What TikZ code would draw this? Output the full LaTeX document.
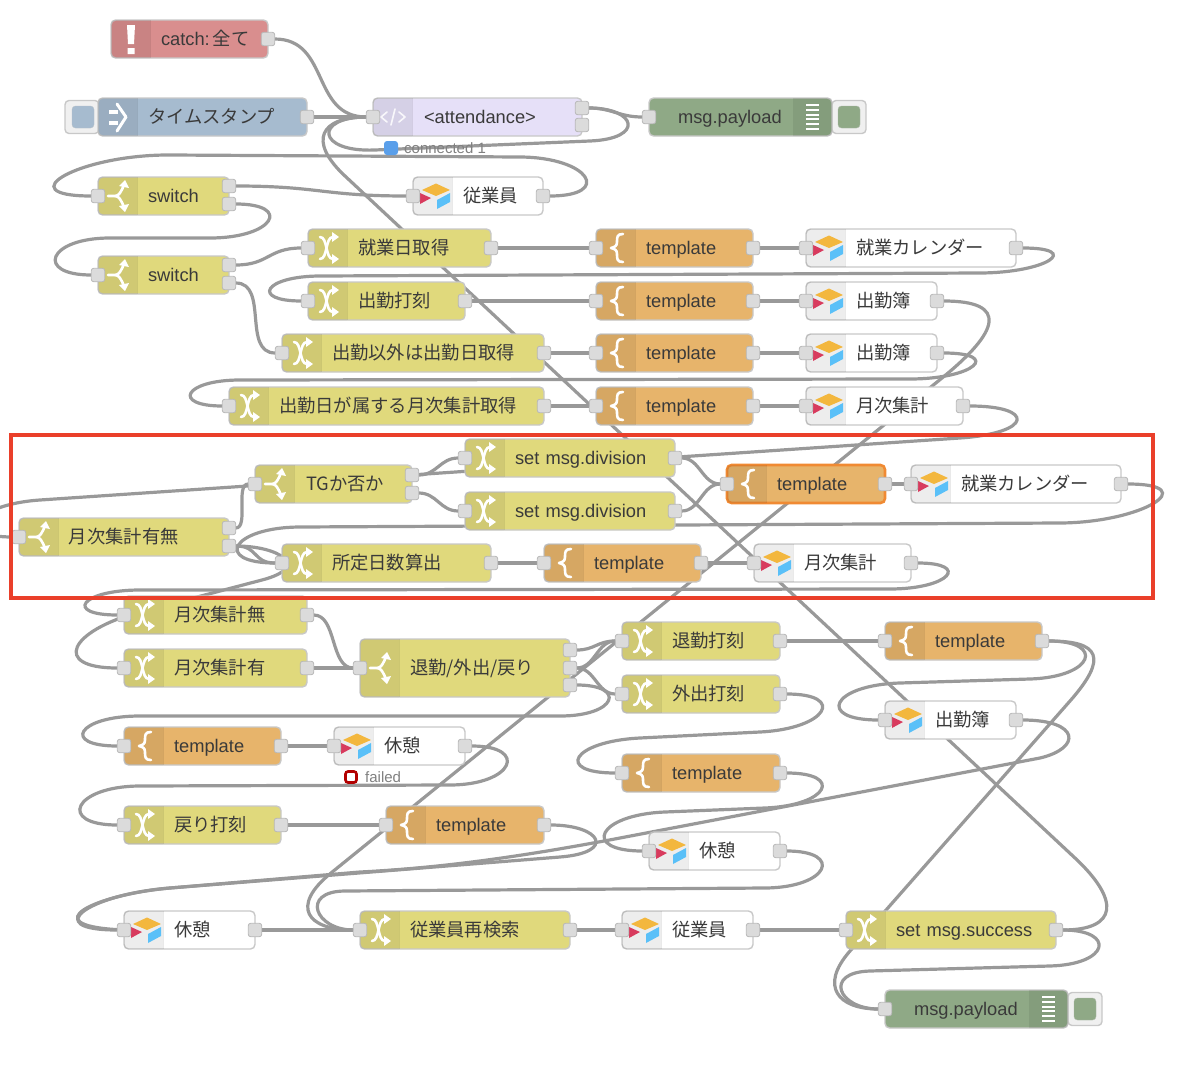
\documentclass[tikz,border=0pt]{standalone}
\usepackage{fontspec}
\setmainfont{Liberation Sans}
\newfontfamily\cjk{Noto Sans CJK JP}
\usetikzlibrary{calc,backgrounds}
\definecolor{cred}{HTML}{D98E8E}
\definecolor{cblue}{HTML}{A6BBCF}
\definecolor{clav}{HTML}{E6E0F8}
\definecolor{cgreen}{HTML}{8FA986}
\definecolor{cyel}{HTML}{E0D97C}
\definecolor{cora}{HTML}{E7B46B}
\definecolor{cwire}{HTML}{999999}
\definecolor{cedge}{HTML}{C8C8C8}
\definecolor{cframe}{HTML}{EA3F2A}
\definecolor{ctxt}{HTML}{3A3A3A}
\definecolor{airy}{HTML}{F3B73E}
\definecolor{airr}{HTML}{D83B5E}
\definecolor{airb}{HTML}{5AC0F8}
\definecolor{chot}{HTML}{F08A33}
\definecolor{cstat}{HTML}{5A9FEA}
\tikzset{
  wire/.style={draw=cwire,line width=3.2pt},
  flowbox/.style={draw=cedge,line width=1.4pt,rounded corners=4.5pt,inner sep=0pt,outer sep=0pt,
    text width=\nw pt,align=left,text=ctxt,font=\fontsize{18.3}{20}\selectfont,text height=13pt,text depth=0pt,
    minimum height=\boxh pt,anchor=west},
  redbox/.style={flowbox,fill=cred},
  bluebox/.style={flowbox,fill=cblue},
  lavbox/.style={flowbox,fill=clav},
  greenbox/.style={flowbox,fill=cgreen},
  yelbox/.style={flowbox,fill=cyel},
  orabox/.style={flowbox,fill=cora},
  whitebox/.style={flowbox,fill=white},
  hotbox/.style={flowbox,fill=cora,draw=chot,line width=2.6pt},
  portbox/.style={draw=black!28,fill=black!14,line width=0.8pt,rounded corners=2.5pt,minimum size=13.5pt,inner sep=0pt,outer sep=0pt},
  btnbox/.style={draw=cedge,fill=black!6,line width=1.4pt,rounded corners=4pt,inner sep=0pt,minimum width=34pt,minimum height=33pt},
  btnin/.style={rounded corners=3.5pt,inner sep=0pt,minimum size=22pt},
  glyph/.style={draw=white,line width=2.6pt,line cap=round,line join=round},
  statustxt/.style={text=black!50,font=\fontsize{15}{17}\selectfont,inner sep=0pt,anchor=west}
}
\def\boxh{38}
\newcommand\secL{\fill[black,opacity=.07] (39,-\boxh/2) [rounded corners=4pt] -- (0,-\boxh/2) -- (0,\boxh/2) [sharp corners] -- (39,\boxh/2) -- cycle;
  \draw[black,opacity=.08,line width=.8pt] (39,-\boxh/2) -- (39,\boxh/2);}
\newcommand\icoswitch{\secL
  \draw[glyph] (10,0) -- (17,0) .. controls (21,0) and (23,-4) .. (26,-11);
  \draw[glyph] (17,0) .. controls (21,0) and (23,4) .. (26,11);
  \fill[white] (21,-10) -- (27,-16) -- (31,-8) -- cycle (21,10) -- (27,16) -- (31,8) -- cycle;}
\newcommand\icochange{\secL
  \draw[glyph] (12,-11) .. controls (20,-11) and (17,11) .. (25,11);
  \draw[glyph] (12,11) .. controls (20,11) and (17,-11) .. (25,-11);
  \fill[white] (24,-16) -- (31,-11) -- (24,-6) -- cycle (24,6) -- (31,11) -- (24,16) -- cycle;}
\newcommand\icotmpl{\secL
  \draw[glyph] (27,-14) .. controls (21,-14) and (21,-11) .. (21,-6) .. controls (21,-2) and (19,-1) .. (15,0)
    .. controls (19,1) and (21,2) .. (21,6) .. controls (21,11) and (21,14) .. (27,14);}
\newcommand\icoair{\secL
  \fill[airy] (23,-12.5) -- (37,-6) -- (23,0) -- (9,-6) -- cycle;
  \fill[airr] (7,-3) -- (18,2) -- (7,8) -- cycle;
  \fill[airb] (37,-3) -- (37,6) -- (24,13) -- (24,4) -- cycle;}
\newcommand\icocatch{\secL
  \fill[white] (16,-14) -- (24,-14) -- (23,5) -- (17,5) -- cycle (16.5,9) rectangle (23.5,15);}
\newcommand\icostamp{\secL
  \draw[glyph,line width=4pt,line cap=butt] (11,-5) -- (20,-5) (11,6) -- (20,6);
  \draw[glyph,line width=3pt] (19,-13) -- (28,0) -- (19,14);}
\newcommand\icoweb{\secL
  \draw[glyph,line width=1.6pt,opacity=.85] (14,-5) -- (8,0) -- (14,5) (22,-8) -- (18,8) (26,-5) -- (32,0) -- (26,5);}
\newcommand\icodebug{%
  \fill[black,opacity=.07] (\nw-39,-\boxh/2) [rounded corners=4pt] -- (\nw,-\boxh/2) -- (\nw,\boxh/2) [sharp corners] -- (\nw-39,\boxh/2) -- cycle;
  \foreach \bk in {-12,-7.2,-2.4,2.4,7.2,12}{\draw[white,line width=2pt] (\nw-26,\bk) -- (\nw-13,\bk);}}
% name x1 x2 yc style icon label-offset label
\newcommand\nd[8]{\pgfmathsetmacro\nw{#3-#2}%
  \begin{scope}[shift={(#2,#4)}]
    \node[#5] (#1) at (0,0) {\hspace*{#7pt}#8};
    #6
  \end{scope}}
\newcommand\inp[1]{\node[portbox] (#1-i) at (#1.west) {};}
\newcommand\outp[3]{\node[portbox] (#1-o#2) at ($(#1.east)+(0,#3)$) {};}
\newcommand\io[1]{\inp{#1}\outp{#1}{}{0}}
\newcommand\fw[3]{\draw[wire] (#1) .. controls ($(#1)+(#3,0)$) and ($(#2)+(-#3,0)$) .. (#2);}
\newcommand\st[2]{\draw[wire] (#1) -- (#2);}
\newcommand\lw[6]{\draw[wire] (#1) .. controls ($(#1)+(#3,0)$) and ($(#5)!-#3pt!(#6)$) .. (#5) -- (#6) .. controls ($(#6)!-#4pt!(#5)$) and ($(#2)+(-#4,0)$) .. (#2);}
\begin{document}
\begin{tikzpicture}[x=1pt,y=-1pt]
\useasboundingbox (0,0) rectangle (1192,1076);
% side buttons
\node[btnbox] (bt1) at (82,117) {};
\node[btnin,fill=cblue,draw=cblue!80!black!60] (bt1i) at (83,117) {};
\node[btnbox] (bt2) at (849,117) {};
\node[btnin,fill=cgreen,draw=cgreen!80!black!60] (bt2i) at (849,117) {};
\node[btnbox] (bt3) at (1085,1009) {};
\node[btnin,fill=cgreen,draw=cgreen!80!black!60] (bt3i) at (1085,1009) {};
% nodes
\nd{catch}{111}{268}{39}{redbox}{\icocatch}{50}{catch:\hspace{3pt}{\cjk 全て}}\outp{catch}{}{0}
\nd{stamp}{98}{307}{117}{bluebox}{\icostamp}{50}{\cjk タイムスタンプ}\outp{stamp}{}{0}
\nd{att}{373}{582}{117}{lavbox}{\icoweb}{51}{<attendance>}\inp{att}\outp{att}{1}{-9}\outp{att}{2}{8}
\nd{pay1}{649}{832}{117}{greenbox}{\icodebug}{29}{msg.payload}\inp{pay1}
\nd{sw1}{98}{229}{196}{yelbox}{\icoswitch}{50}{switch}\inp{sw1}\outp{sw1}{1}{-10}\outp{sw1}{2}{8}
\nd{emp1}{413}{543}{196}{whitebox}{\icoair}{50}{\cjk 従業員}\io{emp1}
\nd{sw2}{98}{229}{275}{yelbox}{\icoswitch}{50}{switch}\inp{sw2}\outp{sw2}{1}{-10}\outp{sw2}{2}{8}
\nd{wd}{308}{491}{248}{yelbox}{\icochange}{50}{\cjk 就業日取得}\io{wd}
\nd{t1}{596}{753}{248}{orabox}{\icotmpl}{50}{template}\io{t1}
\nd{cal1}{806}{1016}{248}{whitebox}{\icoair}{50}{\cjk 就業カレンダー}\io{cal1}
\nd{clk}{308}{465}{301}{yelbox}{\icochange}{50}{\cjk 出勤打刻}\io{clk}
\nd{t2}{596}{753}{301}{orabox}{\icotmpl}{50}{template}\io{t2}
\nd{att2}{806}{937}{301}{whitebox}{\icoair}{50}{\cjk 出勤簿}\io{att2}
\nd{other}{282}{544}{353}{yelbox}{\icochange}{50}{\cjk 出勤以外は出勤日取得}\io{other}
\nd{t3}{596}{753}{353}{orabox}{\icotmpl}{50}{template}\io{t3}
\nd{att3}{806}{937}{353}{whitebox}{\icoair}{50}{\cjk 出勤簿}\io{att3}
\nd{mon}{229}{544}{406}{yelbox}{\icochange}{50}{\cjk 出勤日が属する月次集計取得}\io{mon}
\nd{t4}{596}{753}{406}{orabox}{\icotmpl}{50}{template}\io{t4}
\nd{sum1}{806}{963}{406}{whitebox}{\icoair}{50}{\cjk 月次集計}\io{sum1}
\nd{div1}{465}{675}{458}{yelbox}{\icochange}{50}{set msg.division}\io{div1}
\nd{div2}{465}{675}{511}{yelbox}{\icochange}{50}{set msg.division}\io{div2}
\nd{tg}{255}{412}{484}{yelbox}{\icoswitch}{51}{\cjk TGか否か}\inp{tg}\outp{tg}{1}{-9}\outp{tg}{2}{9}
\nd{t5}{727}{885}{484}{hotbox}{\icotmpl}{50}{template}\io{t5}
\nd{cal2}{911}{1121}{484}{whitebox}{\icoair}{50}{\cjk 就業カレンダー}\io{cal2}
\nd{has}{19}{229}{537}{yelbox}{\icoswitch}{50}{\cjk 月次集計有無}\inp{has}\outp{has}{1}{-9}\outp{has}{2}{9}
\nd{days}{282}{491}{563}{yelbox}{\icochange}{50}{\cjk 所定日数算出}\io{days}
\nd{t6}{544}{701}{563}{orabox}{\icotmpl}{50}{template}\io{t6}
\nd{sum2}{754}{911}{563}{whitebox}{\icoair}{50}{\cjk 月次集計}\io{sum2}
\nd{no}{124}{307}{615}{yelbox}{\icochange}{50}{\cjk 月次集計無}\io{no}
\nd{yes}{124}{307}{668}{yelbox}{\icochange}{50}{\cjk 月次集計有}\io{yes}
\def\boxh{58}
\nd{ret}{360}{570}{668}{yelbox}{\icoswitch}{50}{\cjk 退勤/外出/戻り}\inp{ret}\outp{ret}{1}{-18}\outp{ret}{2}{0}\outp{ret}{3}{17}
\def\boxh{38}
\nd{lv}{622}{780}{641}{yelbox}{\icochange}{50}{\cjk 退勤打刻}\io{lv}
\nd{ot}{622}{780}{694}{yelbox}{\icochange}{50}{\cjk 外出打刻}\io{ot}
\nd{t7}{885}{1042}{641}{orabox}{\icotmpl}{50}{template}\io{t7}
\nd{att4}{885}{1016}{720}{whitebox}{\icoair}{50}{\cjk 出勤簿}\io{att4}
\nd{t8}{124}{281}{746}{orabox}{\icotmpl}{50}{template}\io{t8}
\nd{br1}{334}{465}{746}{whitebox}{\icoair}{50}{\cjk 休憩}\io{br1}
\nd{t9}{622}{780}{773}{orabox}{\icotmpl}{50}{template}\io{t9}
\nd{back}{124}{281}{825}{yelbox}{\icochange}{50}{\cjk 戻り打刻}\io{back}
\nd{t10}{386}{544}{825}{orabox}{\icotmpl}{50}{template}\io{t10}
\nd{br2}{649}{780}{851}{whitebox}{\icoair}{50}{\cjk 休憩}\io{br2}
\nd{br3}{124}{255}{930}{whitebox}{\icoair}{50}{\cjk 休憩}\io{br3}
\nd{re}{360}{570}{930}{yelbox}{\icochange}{50}{\cjk 従業員再検索}\io{re}
\nd{emp2}{622}{753}{930}{whitebox}{\icoair}{50}{\cjk 従業員}\io{emp2}
\nd{succ}{846}{1056}{930}{yelbox}{\icochange}{50}{set msg.success}\io{succ}
\nd{pay2}{885}{1068}{1009}{greenbox}{\icodebug}{29}{msg.payload}\inp{pay2}
% status
\node[fill=cstat,rounded corners=3pt,minimum size=14pt,inner sep=0pt] (s1) at (391,148) {};
\node[statustxt] (s1t) at (404,148) {connected 1};
\node[draw=red!70!black,fill=white,line width=2.6pt,rounded corners=2.5pt,minimum size=11pt,inner sep=0pt] (s2) at (351,777) {};
\node[statustxt] (s2t) at (365,777) {failed};
\begin{pgfonlayer}{background}
\fw{catch-o}{att-i}{62}
\st{stamp-o}{att-i}
\fw{att-o1}{pay1-i}{30}
\lw{att-o1}{att-i}{55}{59}{590,141}{375,150}
\lw{succ-o}{att-i}{62}{52}{1075,858}{345,176}
\lw{emp1-o}{sw1-i}{70}{91}{520,157}{170,155}
\fw{sw1-o1}{emp1-i}{90}
\lw{sw1-o2}{sw2-i}{64}{63}{210,238}{110,238}
\fw{sw2-o1}{wd-i}{40}
\fw{sw2-o2}{other-i}{40}
\st{wd-o}{t1-i}\st{t1-o}{cal1-i}
\lw{cal1-o}{clk-i}{67}{57}{980,273}{320,276}
\st{clk-o}{t2-i}\st{t2-o}{att2-i}
\lw{att2-o}{re-i}{73}{53}{942,378}{331,873}
\st{other-o}{t3-i}\st{t3-o}{att3-i}
\lw{att3-o}{mon-i}{65}{57}{910,379}{240,380}
\st{mon-o}{t4-i}\st{t4-o}{sum1-i}
\lw{sum1-o}{has-i}{73}{66}{960,438}{40,500}
\fw{has-o1}{tg-i}{20}
\fw{has-o2}{days-i}{30}
\lw{has-o2}{yes-i}{51}{73}{262,580}{140,612}
\fw{tg-o1}{div1-i}{25}
\fw{tg-o2}{div2-i}{25}
\fw{div1-o}{t5-i}{25}
\fw{div2-o}{t5-i}{25}
\st{t5-o}{cal2-i}
\lw{cal2-o}{days-i}{83}{69}{1060,523}{300,527}
\st{days-o}{t6-i}\st{t6-o}{sum2-i}
\lw{sum2-o}{no-i}{60}{60}{890,589}{140,590}
\fw{no-o}{ret-i}{30}
\st{yes-o}{ret-i}
\fw{ret-o1}{lv-i}{25}
\fw{ret-o2}{lv-i}{25}
\fw{ret-o2}{ot-i}{25}
\lw{ret-o3}{t8-i}{57}{63}{560,716}{140,716}
\st{lv-o}{t7-i}
\lw{t7-o}{att4-i}{64}{69}{1030,679}{900,683}
\lw{t7-o}{pay2-i}{58}{47}{1070,701}{850,951}
\lw{ot-o}{t9-i}{67}{68}{760,732}{640,738}
\lw{t9-o}{br2-i}{64}{68}{765,808}{665,812}
\lw{br2-o}{re-i}{64}{45}{765,888}{345,891}
\st{t8-o}{br1-i}
\lw{br1-o}{back-i}{64}{67}{450,785}{140,786}
\st{back-o}{t10-i}
\lw{t10-o}{br3-i}{57}{84}{560,857}{170,888}
\draw[wire] (att4-o) .. controls ($(att4-o)+(64,0)$) and (1082,748) .. (1040,758) -- (620,838) .. controls (520,857) and (440,868) .. (360,872) -- (170,888) .. controls (92,895) and (36,925) .. (br3-i);
\st{br3-o}{re-i}
\st{re-o}{emp2-i}\st{emp2-o}{succ-i}
\lw{succ-o}{pay2-i}{60}{47}{1050,966}{870,971}
\end{pgfonlayer}
% highlight frame
\node[draw=cframe,line width=3.5pt,minimum width=1142pt,minimum height=163pt,inner sep=0pt,anchor=north west] (frame) at (9,433) {};
\end{tikzpicture}
\end{document}
